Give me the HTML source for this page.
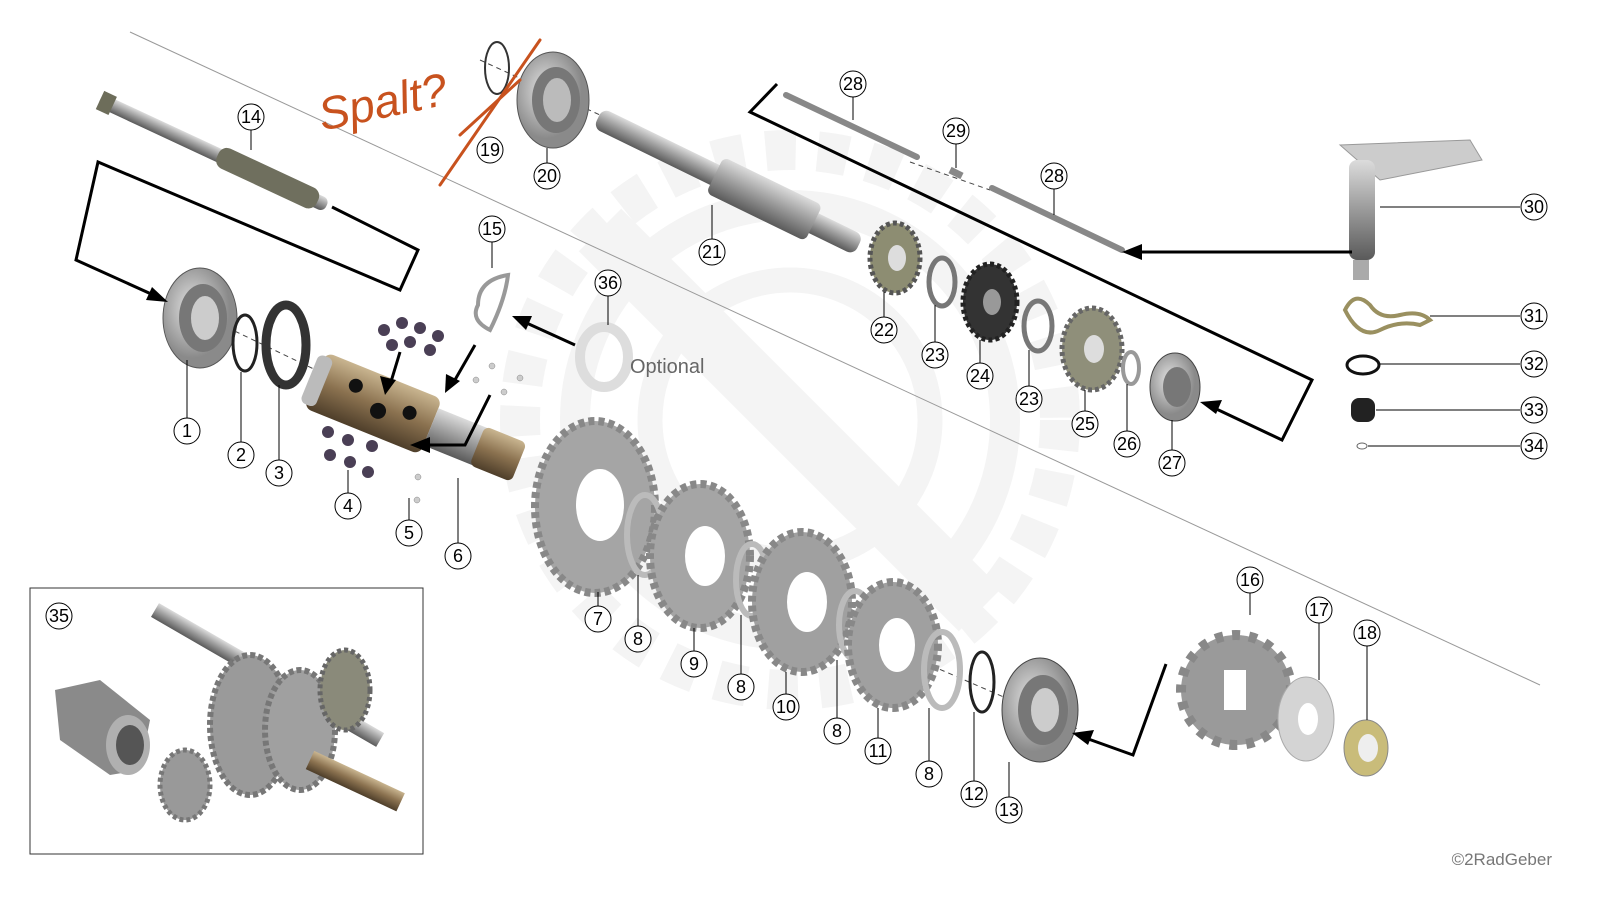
<!DOCTYPE html>
<html><head><meta charset="utf-8"><style>
html,body{margin:0;padding:0;background:#fff;width:1600px;height:900px;overflow:hidden}
svg{display:block}
text{font-family:"Liberation Sans",sans-serif}
</style></head><body>
<svg width="1600" height="900" viewBox="0 0 1600 900" xmlns="http://www.w3.org/2000/svg">
<defs>
<radialGradient id="gm" cx="40%" cy="40%"><stop offset="0" stop-color="#e4e4e4"/><stop offset="1" stop-color="#8a8a8a"/></radialGradient>
<linearGradient id="sh" x1="0" y1="0" x2="0" y2="1"><stop offset="0" stop-color="#dcdcdc"/><stop offset="0.5" stop-color="#9a9a9a"/><stop offset="1" stop-color="#5a5a5a"/></linearGradient>
<linearGradient id="br" x1="0" y1="0" x2="0" y2="1"><stop offset="0" stop-color="#c9b590"/><stop offset="0.5" stop-color="#8b7250"/><stop offset="1" stop-color="#4e3e2a"/></linearGradient>
</defs>
<!-- watermark -->
<g fill="none" stroke="#f4f4f4">
<circle cx="790" cy="420" r="270" stroke-width="40" stroke-dasharray="30 22"/>
<circle cx="790" cy="420" r="215" stroke-width="30"/>
<circle cx="790" cy="420" r="140" stroke-width="25"/>
<path d="M600,230 L980,610" stroke-width="60"/>
</g>
<line x1="130" y1="32" x2="1540" y2="685" stroke="#999" stroke-width="1"/>
<g stroke="#444" stroke-width="1" stroke-dasharray="5 4">
<line x1="170" y1="300" x2="320" y2="372"/>
<line x1="560" y1="505" x2="1080" y2="730"/>
<line x1="480" y1="60" x2="600" y2="115"/>
<line x1="910" y1="162" x2="990" y2="190"/>
</g>
<g transform="translate(100,100) rotate(25)"><rect x="0" y="-7" width="250" height="14" rx="6" fill="url(#sh)"/><rect x="0" y="-10" width="14" height="20" fill="#6d6d5a"/><rect x="130" y="-11" width="110" height="22" rx="9" fill="#6f6f5e"/></g>
<ellipse cx="200" cy="318" rx="37" ry="50" fill="url(#gm)" stroke="#555"/><ellipse cx="203" cy="318" rx="24" ry="34" fill="#777"/><ellipse cx="205" cy="318" rx="14" ry="22" fill="#ccc"/>
<ellipse cx="245" cy="343" rx="12" ry="28" fill="none" stroke="#222" stroke-width="3"/>
<ellipse cx="286" cy="345" rx="20" ry="40" fill="none" stroke="#333" stroke-width="9"/>
<g transform="translate(315,380) rotate(22)"><rect x="0" y="-30" width="125" height="60" rx="8" fill="url(#br)"/><rect x="-6" y="-26" width="16" height="52" rx="6" fill="#bbb"/><rect x="125" y="-20" width="85" height="40" fill="url(#sh)"/><rect x="175" y="-21" width="45" height="42" rx="6" fill="url(#br)"/>
<circle cx="40" cy="-10" r="7" fill="#111"/><circle cx="70" cy="5" r="8" fill="#111"/><circle cx="100" cy="-5" r="7" fill="#111"/></g>
<g fill="#4a3f55"><circle cx="384" cy="330" r="6"/><circle cx="402" cy="323" r="6"/><circle cx="420" cy="328" r="6"/><circle cx="438" cy="336" r="6"/><circle cx="410" cy="342" r="6"/><circle cx="430" cy="350" r="6"/><circle cx="392" cy="345" r="6"/>
<circle cx="328" cy="432" r="6"/><circle cx="348" cy="440" r="6"/><circle cx="372" cy="446" r="6"/><circle cx="330" cy="455" r="6"/><circle cx="350" cy="462" r="6"/><circle cx="368" cy="472" r="6"/></g>
<g fill="#ccc" stroke="#888" stroke-width=".5"><circle cx="492" cy="366" r="3"/><circle cx="476" cy="380" r="3"/><circle cx="520" cy="378" r="3"/><circle cx="504" cy="392" r="3"/><circle cx="418" cy="477" r="3"/><circle cx="417" cy="500" r="3"/></g>
<path d="M478,305 Q478,280 508,275 Q505,300 490,330 Q470,320 478,305Z" fill="none" stroke="#999" stroke-width="4"/>
<ellipse cx="604" cy="357" rx="24" ry="30" fill="none" stroke="#ddd" stroke-width="10"/>
<text x="630" y="373" font-size="20" fill="#666">Optional</text>
<ellipse cx="497" cy="68" rx="12" ry="26" fill="none" stroke="#333" stroke-width="2"/>
<ellipse cx="553" cy="100" rx="36" ry="48" fill="url(#gm)" stroke="#555"/><ellipse cx="556" cy="100" rx="24" ry="33" fill="#777"/><ellipse cx="557" cy="100" rx="14" ry="22" fill="#bbb"/>
<g transform="translate(598,118) rotate(26)"><rect x="0" y="-11" width="290" height="22" rx="8" fill="url(#sh)"/><rect x="130" y="-20" width="110" height="40" rx="6" fill="url(#sh)"/></g>
<g><ellipse cx="895" cy="258" rx="25" ry="35" fill="#8d8d72" stroke="#555" stroke-width="5" stroke-dasharray="4 3"/><ellipse cx="897" cy="258" rx="9" ry="13" fill="#ddd"/>
<ellipse cx="942" cy="282" rx="13" ry="24" fill="none" stroke="#777" stroke-width="5"/>
<ellipse cx="990" cy="302" rx="27" ry="38" fill="#333" stroke="#222" stroke-width="5" stroke-dasharray="4 3"/><ellipse cx="992" cy="302" rx="9" ry="13" fill="#999"/>
<ellipse cx="1038" cy="326" rx="14" ry="25" fill="none" stroke="#777" stroke-width="5"/>
<ellipse cx="1092" cy="349" rx="30" ry="41" fill="#8f8f7a" stroke="#666" stroke-width="5" stroke-dasharray="4 3"/><ellipse cx="1094" cy="349" rx="10" ry="14" fill="#ddd"/>
<ellipse cx="1131" cy="368" rx="8" ry="16" fill="none" stroke="#999" stroke-width="4"/>
<ellipse cx="1175" cy="387" rx="25" ry="34" fill="url(#gm)" stroke="#444"/><ellipse cx="1177" cy="387" rx="14" ry="20" fill="#777"/></g>
<line x1="786" y1="95" x2="917" y2="157" stroke="#888" stroke-width="6" stroke-linecap="round"/>
<line x1="992" y1="188" x2="1122" y2="250" stroke="#888" stroke-width="6" stroke-linecap="round"/>
<line x1="950" y1="170" x2="962" y2="176" stroke="#888" stroke-width="7"/>
<path d="M1340,145 L1470,140 L1482,160 L1380,180 Z" fill="#ccc" stroke="#999"/>
<rect x="1349" y="160" width="26" height="100" rx="8" fill="url(#sh)"/>
<rect x="1353" y="260" width="16" height="20" fill="#aaa"/>
<path d="M1345,310 q10,-20 25,-5 q10,15 30,10 q20,-5 30,5 l-10,5 q-20,-5 -40,5 q-20,10 -35,-20Z" fill="none" stroke="#9a9060" stroke-width="4"/>
<ellipse cx="1363" cy="365" rx="16" ry="9" fill="none" stroke="#111" stroke-width="3"/>
<rect x="1351" y="398" width="24" height="24" rx="8" fill="#222"/>
<ellipse cx="1362" cy="446" rx="5" ry="3" fill="none" stroke="#666"/>
<g>
<ellipse cx="595" cy="507" rx="60" ry="86" fill="#a5a5a5" stroke="#888" stroke-width="8" stroke-dasharray="6 4"/><ellipse cx="600" cy="505" rx="24" ry="36" fill="#fff"/>
<ellipse cx="645" cy="535" rx="18" ry="40" fill="none" stroke="#bbb" stroke-width="6"/>
<ellipse cx="700" cy="556" rx="50" ry="72" fill="#a5a5a5" stroke="#888" stroke-width="8" stroke-dasharray="6 4"/><ellipse cx="705" cy="556" rx="20" ry="30" fill="#fff"/>
<ellipse cx="752" cy="580" rx="16" ry="36" fill="none" stroke="#bbb" stroke-width="6"/>
<ellipse cx="802" cy="602" rx="50" ry="70" fill="#a0a0a0" stroke="#888" stroke-width="8" stroke-dasharray="6 4"/><ellipse cx="807" cy="602" rx="20" ry="30" fill="#fff"/>
<ellipse cx="855" cy="625" rx="16" ry="34" fill="none" stroke="#bbb" stroke-width="6"/>
<ellipse cx="893" cy="645" rx="45" ry="63" fill="#a0a0a0" stroke="#888" stroke-width="8" stroke-dasharray="6 4"/><ellipse cx="897" cy="645" rx="18" ry="27" fill="#fff"/>
<ellipse cx="942" cy="670" rx="18" ry="38" fill="none" stroke="#bbb" stroke-width="6"/>
<ellipse cx="982" cy="682" rx="12" ry="30" fill="none" stroke="#222" stroke-width="3"/>
<ellipse cx="1040" cy="710" rx="38" ry="52" fill="url(#gm)" stroke="#444"/><ellipse cx="1043" cy="710" rx="25" ry="35" fill="#777"/><ellipse cx="1045" cy="710" rx="14" ry="22" fill="#ccc"/>
<circle cx="1236" cy="690" r="55" fill="#9a9a9a" stroke="#888" stroke-width="10" stroke-dasharray="8 9"/><rect x="1224" y="670" width="22" height="40" fill="#fff"/>
<ellipse cx="1306" cy="719" rx="28" ry="42" fill="#d4d4d4" stroke="#aaa"/><ellipse cx="1308" cy="719" rx="10" ry="16" fill="#fff"/>
<ellipse cx="1366" cy="748" rx="22" ry="28" fill="#c9bc7a" stroke="#888"/><ellipse cx="1368" cy="748" rx="10" ry="14" fill="#eee"/>
</g>
<g fill="none" stroke="#000" stroke-width="3">
<polyline points="332,207 418,250 400,290 98,162 76,260 160,298"/>
<polyline points="777,84 750,112 1312,380 1282,440 1210,406"/>
<line x1="1352" y1="252" x2="1130" y2="252"/>
<line x1="575" y1="345" x2="520" y2="320"/>
<polyline points="1166,664 1133,755 1080,736"/>
<line x1="400" y1="352" x2="390" y2="385"/>
<line x1="475" y1="345" x2="452" y2="385"/>
<polyline points="490,395 465,445 420,445"/>
</g>
<g fill="#000">
<polygon points="168,302 146,300 152,287"/>
<polygon points="1200,402 1222,400 1216,414"/>
<polygon points="1122,252 1142,244 1142,260"/>
<polygon points="512,316 532,316 526,330"/>
<polygon points="1072,733 1094,730 1088,745"/>
<polygon points="385,395 380,376 396,380"/>
<polygon points="445,393 446,374 460,381"/>
<polygon points="410,445 430,437 430,453"/>
</g>
<g stroke="#000" stroke-width="1">
<line x1="251" y1="130" x2="251" y2="150"/><line x1="187" y1="418" x2="187" y2="360"/><line x1="241" y1="442" x2="241" y2="372"/><line x1="279" y1="460" x2="279" y2="385"/>
<line x1="348" y1="493" x2="348" y2="470"/><line x1="409" y1="520" x2="409" y2="498"/><line x1="458" y1="543" x2="458" y2="478"/>
<line x1="492" y1="242" x2="492" y2="268"/><line x1="608" y1="296" x2="608" y2="325"/><line x1="547" y1="163" x2="547" y2="148"/>
<line x1="712" y1="239" x2="712" y2="205"/><line x1="853" y1="97" x2="853" y2="120"/><line x1="956" y1="144" x2="956" y2="168"/><line x1="1054" y1="189" x2="1054" y2="215"/>
<line x1="884" y1="317" x2="884" y2="292"/><line x1="935" y1="342" x2="935" y2="305"/><line x1="980" y1="363" x2="980" y2="340"/><line x1="1029" y1="386" x2="1029" y2="350"/>
<line x1="1085" y1="411" x2="1085" y2="390"/><line x1="1127" y1="431" x2="1127" y2="384"/><line x1="1172" y1="450" x2="1172" y2="420"/>
<line x1="1380" y1="207" x2="1520" y2="207"/><line x1="1430" y1="316" x2="1520" y2="316"/><line x1="1380" y1="364" x2="1520" y2="364"/><line x1="1376" y1="410" x2="1520" y2="410"/><line x1="1368" y1="446" x2="1520" y2="446"/>
<line x1="598" y1="606" x2="598" y2="592"/><line x1="638" y1="626" x2="638" y2="575"/><line x1="694" y1="651" x2="694" y2="628"/><line x1="741" y1="674" x2="741" y2="615"/>
<line x1="786" y1="694" x2="786" y2="672"/><line x1="837" y1="718" x2="837" y2="660"/><line x1="878" y1="738" x2="878" y2="708"/><line x1="929" y1="761" x2="929" y2="708"/>
<line x1="974" y1="781" x2="974" y2="712"/><line x1="1009" y1="797" x2="1009" y2="762"/><line x1="1250" y1="593" x2="1250" y2="615"/><line x1="1319" y1="623" x2="1319" y2="680"/><line x1="1367" y1="646" x2="1367" y2="720"/>
</g>
<g fill="#fff" stroke="#000" stroke-width="1">
<circle cx="251" cy="117" r="13"/><circle cx="187" cy="431" r="13"/><circle cx="241" cy="455" r="13"/><circle cx="279" cy="473" r="13"/><circle cx="348" cy="506" r="13"/><circle cx="409" cy="533" r="13"/><circle cx="458" cy="556" r="13"/>
<circle cx="492" cy="229" r="13"/><circle cx="608" cy="283" r="13"/><circle cx="490" cy="150" r="13"/><circle cx="547" cy="176" r="13"/><circle cx="712" cy="252" r="13"/>
<circle cx="853" cy="84" r="13"/><circle cx="956" cy="131" r="13"/><circle cx="1054" cy="176" r="13"/><circle cx="884" cy="330" r="13"/><circle cx="935" cy="355" r="13"/><circle cx="980" cy="376" r="13"/><circle cx="1029" cy="399" r="13"/><circle cx="1085" cy="424" r="13"/><circle cx="1127" cy="444" r="13"/><circle cx="1172" cy="463" r="13"/>
<circle cx="1534" cy="207" r="13"/><circle cx="1534" cy="316" r="13"/><circle cx="1534" cy="364" r="13"/><circle cx="1534" cy="410" r="13"/><circle cx="1534" cy="446" r="13"/>
<circle cx="598" cy="619" r="13"/><circle cx="638" cy="639" r="13"/><circle cx="694" cy="664" r="13"/><circle cx="741" cy="687" r="13"/><circle cx="786" cy="707" r="13"/><circle cx="837" cy="731" r="13"/><circle cx="878" cy="751" r="13"/><circle cx="929" cy="774" r="13"/><circle cx="974" cy="794" r="13"/><circle cx="1009" cy="810" r="13"/>
<circle cx="1250" cy="580" r="13"/><circle cx="1319" cy="610" r="13"/><circle cx="1367" cy="633" r="13"/><circle cx="59" cy="616" r="13"/>
</g>
<g font-size="18" text-anchor="middle" fill="#000">
<text x="251" y="123">14</text><text x="187" y="437">1</text><text x="241" y="461">2</text><text x="279" y="479">3</text><text x="348" y="512">4</text><text x="409" y="539">5</text><text x="458" y="562">6</text>
<text x="492" y="235">15</text><text x="608" y="289">36</text><text x="490" y="156">19</text><text x="547" y="182">20</text><text x="712" y="258">21</text>
<text x="853" y="90">28</text><text x="956" y="137">29</text><text x="1054" y="182">28</text><text x="884" y="336">22</text><text x="935" y="361">23</text><text x="980" y="382">24</text><text x="1029" y="405">23</text><text x="1085" y="430">25</text><text x="1127" y="450">26</text><text x="1172" y="469">27</text>
<text x="1534" y="213">30</text><text x="1534" y="322">31</text><text x="1534" y="370">32</text><text x="1534" y="416">33</text><text x="1534" y="452">34</text>
<text x="598" y="625">7</text><text x="638" y="645">8</text><text x="694" y="670">9</text><text x="741" y="693">8</text><text x="786" y="713">10</text><text x="837" y="737">8</text><text x="878" y="757">11</text><text x="929" y="780">8</text><text x="974" y="800">12</text><text x="1009" y="816">13</text>
<text x="1250" y="586">16</text><text x="1319" y="616">17</text><text x="1367" y="639">18</text><text x="59" y="622">35</text>
</g>
<rect x="30" y="588" width="393" height="266" fill="none" stroke="#333" stroke-width="1"/>
<g>
<path d="M55,690 L100,680 L150,720 L140,770 L110,775 L60,740Z" fill="#8a8a8a"/><ellipse cx="128" cy="745" rx="22" ry="30" fill="#b0b0b0"/><ellipse cx="130" cy="745" rx="14" ry="20" fill="#555"/>
<g transform="translate(155,610) rotate(30)"><rect x="0" y="-8" width="260" height="16" fill="url(#sh)"/></g>
<ellipse cx="250" cy="725" rx="40" ry="70" fill="#9a9a9a" stroke="#777" stroke-width="6" stroke-dasharray="5 3"/>
<ellipse cx="300" cy="730" rx="35" ry="60" fill="#a0a0a0" stroke="#777" stroke-width="6" stroke-dasharray="5 3"/>
<ellipse cx="345" cy="690" rx="25" ry="40" fill="#8a8a7a" stroke="#666" stroke-width="5" stroke-dasharray="4 3"/>
<ellipse cx="185" cy="785" rx="25" ry="35" fill="#999" stroke="#777" stroke-width="5" stroke-dasharray="4 3"/>
<g transform="translate(310,760) rotate(25)"><rect x="0" y="-10" width="100" height="20" fill="url(#br)"/></g>
</g>
<g fill="none" stroke="#c8521e" stroke-width="3" stroke-linecap="round">
<line x1="540" y1="40" x2="440" y2="185"/><line x1="520" y1="80" x2="460" y2="135"/>
</g>
<text x="315" y="118" font-size="46" fill="#c8521e" font-family="Liberation Serif,serif" font-style="italic" transform="rotate(-12 380 90)">Spalt?</text>
<text x="1552" y="865" font-size="17" fill="#777" text-anchor="end">©2RadGeber</text>
</svg>
</body></html>
